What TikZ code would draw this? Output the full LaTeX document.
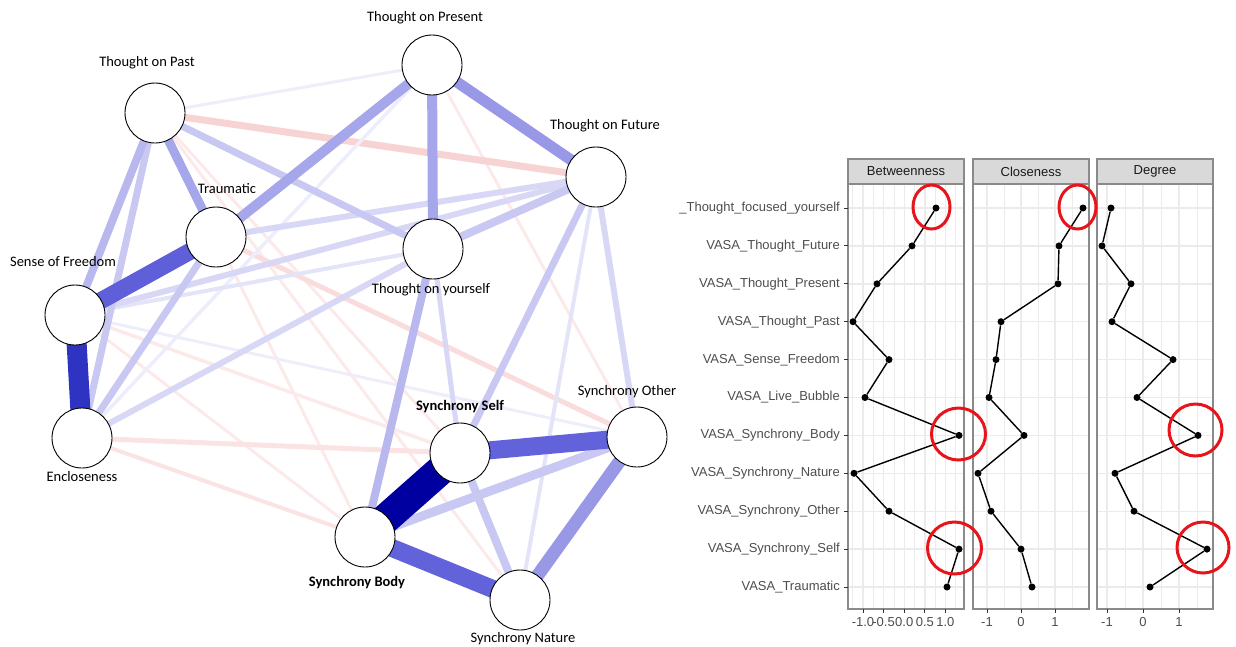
\documentclass[tikz,border=0pt]{standalone}
\usepackage{fontspec}
\setmainfont{Carlito}
\newfontfamily\plotfont{Liberation Sans}
\usetikzlibrary{positioning}
\pgfdeclarelayer{edges}
\pgfsetlayers{edges,main}
% edge colours
\definecolor{bdark}{HTML}{0000A0}
\definecolor{bfree}{HTML}{2F33C2}
\definecolor{bmid}{HTML}{5F60D9}
\definecolor{bsync}{HTML}{6262DA}
\definecolor{bnine}{HTML}{9898E6}
\definecolor{bseven}{HTML}{A6A6EA}
\definecolor{bsix}{HTML}{B8B8EE}
\definecolor{bfive}{HTML}{C8C8F2}
\definecolor{bfour}{HTML}{D8D8F6}
\definecolor{bthree}{HTML}{E4E4F9}
\definecolor{btwo}{HTML}{EDEDFB}
\definecolor{rone}{HTML}{F8D3D3}
\definecolor{rtwo}{HTML}{FADCDC}
\definecolor{rthree}{HTML}{FBE3E3}
\definecolor{rfour}{HTML}{FCEAEA}
\definecolor{ringred}{HTML}{E8141B}
\definecolor{gridgray}{HTML}{EBEBEB}
\definecolor{framegray}{HTML}{8A8A8A}
\definecolor{stripgray}{HTML}{D9D9D9}
\definecolor{labgray}{HTML}{4D4D4D}

\begin{document}
\begin{tikzpicture}[x=1pt,y=-1pt,
    var/.style={circle,draw,fill=white,minimum size=60pt,inner sep=0pt,line width=0.9pt},
    lab/.style={font=\fontsize{14.5}{16}\selectfont,inner sep=0pt,text height=10pt,text depth=3pt},
    grid/.style={gridgray,line width=1.4pt},
    minorgrid/.style={gridgray,line width=0.8pt},
    plotline/.style={black,line width=1.4pt},
    dot/.style={circle,fill=black,inner sep=0pt,minimum size=7pt},
    ring/.style={ringred,line width=3pt},
    rowlab/.style={font=\plotfont\fontsize{13}{15}\selectfont,text=labgray,anchor=east,inner sep=0pt}]
\useasboundingbox (0,0) rectangle (1236,646);
% Network nodes
\node[var] (past) at (155,113) {};
\node[var] (present) at (432,65) {};
\node[var] (future) at (596,177) {};
\node[var] (traum) at (216,237) {};
\node[var] (yourself) at (433,249) {};
\node[var] (freedom) at (75,315) {};
\node[var] (enclos) at (82,438) {};
\node[var] (sself) at (460,453) {};
\node[var] (sother) at (637,437) {};
\node[var] (sbody) at (365,537) {};
\node[var] (snature) at (520,600) {};
% Node labels
\node[lab] (presentlab) at (425,18) {Thought on Present};
\node[lab] (pastlab) at (147,63) {Thought on Past};
\node[lab] (futurelab) at (605,126) {Thought on Future};
\node[lab] (traumlab) at (227,190) {Traumatic};
\node[lab] (freedomlab) at (63,263) {Sense of Freedom};
\node[lab] (yourselflab) at (431,290) {Thought on yourself};
\node[lab] (encloslab) at (82,478) {Encloseness};
\node[lab,font=\fontsize{14.5}{16}\selectfont\bfseries] (sselflab) at (460,407) {Synchrony Self};
\node[lab] (sotherlab) at (627,392) {Synchrony Other};
\node[lab,font=\fontsize{14.5}{16}\selectfont\bfseries] (sbodylab) at (357,583) {Synchrony Body};
\node[lab] (snaturelab) at (523,639) {Synchrony Nature};
\begin{pgfonlayer}{edges}
% negative edges
\draw[line width=3pt,rfour] (past.center) -- (sself.center);
\draw[line width=3pt,rfour] (present.center) -- (sother.center);
\draw[line width=3pt,rfour] (past.center) -- (snature.center);
\draw[line width=3pt,rfour] (past.center) -- (sbody.center);
\draw[line width=3pt,rfour] (freedom.center) -- (sbody.center);
\draw[line width=3.5pt,rfour] (freedom.center) -- (sself.center);
\draw[line width=4pt,rthree] (enclos.center) -- (sbody.center);
\draw[line width=5pt,rthree] (enclos.center) -- (sself.center);
\draw[line width=5pt,rtwo] (traum.center) -- (sother.center);
\draw[line width=7pt,rone] (past.center) -- (future.center);
% weak positive edges
\draw[line width=3pt,btwo] (freedom.center) -- (sother.center);
\draw[line width=3pt,btwo] (present.center) -- (past.center);
\draw[line width=3.5pt,btwo] (present.center) -- (enclos.center);
\draw[line width=4pt,bthree] (yourself.center) -- (freedom.center);
\draw[line width=4pt,bthree] (future.center) -- (snature.center);
\draw[line width=6pt,bfour] (future.center) -- (traum.center);
\draw[line width=6pt,bfour] (future.center) -- (freedom.center);
\draw[line width=6pt,bfour] (future.center) -- (sother.center);
\draw[line width=6pt,bfour] (yourself.center) -- (enclos.center);
\draw[line width=5pt,bfour] (yourself.center) -- (sself.center);
\draw[line width=7pt,bfive] (past.center) -- (enclos.center);
\draw[line width=7pt,bfive] (past.center) -- (yourself.center);
\draw[line width=7pt,bfive] (traum.center) -- (enclos.center);
\draw[line width=7pt,bfive] (future.center) -- (sself.center);
\draw[line width=8pt,bfive] (future.center) -- (yourself.center);
\draw[line width=8pt,bfive] (sself.center) -- (snature.center);
\draw[line width=9pt,bfive] (sbody.center) -- (sother.center);
\draw[line width=8pt,bsix] (yourself.center) -- (sbody.center);
\draw[line width=8pt,bsix] (past.center) -- (freedom.center);
% strong positive edges
\draw[line width=9pt,bseven] (past.center) -- (traum.center);
\draw[line width=10pt,bseven] (present.center) -- (yourself.center);
\draw[line width=10pt,bseven] (present.center) -- (traum.center);
\draw[line width=11pt,bnine] (present.center) -- (future.center);
\draw[line width=13pt,bnine] (sother.center) -- (snature.center);
\draw[line width=18pt,bsync] (sself.center) -- (sother.center);
\draw[line width=18pt,bsync] (sbody.center) -- (snature.center);
\draw[line width=17pt,bmid] (freedom.center) -- (traum.center);
\draw[line width=20pt,bfree] (freedom.center) -- (enclos.center);
\draw[line width=30pt,bdark] (sself.center) -- (sbody.center);
\end{pgfonlayer}
% Centrality plot: panels
\foreach \pl/\pr/\ttl in {848/964/Betweenness,973/1089/Closeness,1097/1213/Degree}{
  \foreach \i in {0,...,10}
    \draw[grid] (\pl,{208+37.9*\i}) -- (\pr,{208+37.9*\i});
  \node[rectangle,draw=framegray,fill=stripgray,line width=1.2pt,minimum width={\pr-\pl},
    minimum height=25pt,inner sep=0pt,font=\plotfont\fontsize{13}{15}\selectfont,
    text=black!90] (strip\ttl) at ({(\pl+\pr)/2},171.5) {\ttl};
}
% vertical grid lines
\foreach \gx in {863,883.6,904.2,924.8,945.4} \draw[grid] (\gx,184) -- (\gx,609);
\foreach \gx in {852.7,873.3,893.9,914.5,935.1,955.7} \draw[minorgrid] (\gx,184) -- (\gx,609);
\foreach \gx in {987,1021,1055} \draw[grid] (\gx,184) -- (\gx,609);
\foreach \gx in {1004,1038,1072} \draw[minorgrid] (\gx,184) -- (\gx,609);
\foreach \gx in {1107,1143,1179} \draw[grid] (\gx,184) -- (\gx,609);
\foreach \gx in {1125,1161,1197} \draw[minorgrid] (\gx,184) -- (\gx,609);
\foreach \pl/\pr in {848/964,973/1089,1097/1213}
  \draw[framegray,line width=1.2pt] (\pl,184) rectangle (\pr,609);
% row labels and ticks
\foreach \lab [count=\i from 0] in {\_Thought\_focused\_yourself,VASA\_Thought\_Future,
  VASA\_Thought\_Present,VASA\_Thought\_Past,VASA\_Sense\_Freedom,VASA\_Live\_Bubble,
  VASA\_Synchrony\_Body,VASA\_Synchrony\_Nature,VASA\_Synchrony\_Other,
  VASA\_Synchrony\_Self,VASA\_Traumatic}{
  \node[rowlab] (row\i) at (840,{208+37.9*\i}) {\lab};
  \draw[black!80,line width=1pt] (844,{208+37.9*\i}) -- (848,{208+37.9*\i});
}
% x axis ticks
\foreach \tx/\tl in {863/-1.0,883.6/-0.5,904.2/0.0,924.8/0.5,945.4/1.0,987/-1,1021/0,1055/1,1107/-1,1143/0,1179/1}{
  \draw[black!80,line width=1pt] (\tx,609) -- (\tx,613);
  \node[font=\plotfont\fontsize{13}{15}\selectfont,text=labgray,inner sep=0pt] at (\tx,622) {\tl};
}
% data points
\foreach \px [count=\i from 0] in {936,912,877,853,889,865,959,854,889,959,947}
  \node[dot] (b\i) at (\px,{208+37.9*\i}) {};
\foreach \px [count=\i from 0] in {1083,1059,1058,1001,996,989,1024,978,991,1021,1032}
  \node[dot] (c\i) at (\px,{208+37.9*\i}) {};
\foreach \px [count=\i from 0] in {1111,1102,1131,1112,1173,1137,1198,1115,1134,1207,1150}
  \node[dot] (d\i) at (\px,{208+37.9*\i}) {};
\foreach \i [evaluate=\i as \j using int(\i+1)] in {0,...,9}{
  \draw[plotline] (b\i) -- (b\j);
  \draw[plotline] (c\i) -- (c\j);
  \draw[plotline] (d\i) -- (d\j);
}
% highlight rings
\draw[ring] (931.5,207) ellipse [x radius=18.5,y radius=22];
\draw[ring] (1077.5,207) ellipse [x radius=18.5,y radius=22];
\draw[ring] (958.5,434) ellipse [x radius=27,y radius=26];
\draw[ring] (954.5,548) ellipse [x radius=27,y radius=26];
\draw[ring] (1195.5,430) ellipse [x radius=26.5,y radius=26];
\draw[ring] (1203,547.5) ellipse [x radius=26,y radius=25.5];
\end{tikzpicture}
\end{document}
